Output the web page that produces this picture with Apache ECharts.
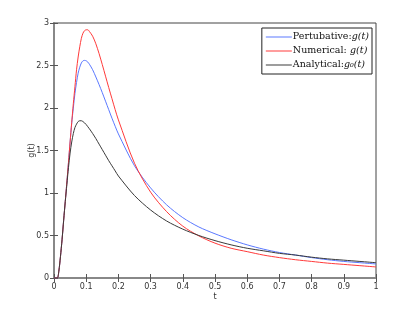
<!DOCTYPE html>
<html><head><meta charset="utf-8">
<script src="https://cdn.jsdelivr.net/npm/echarts@6/dist/echarts.min.js"></script>
<style>html,body{margin:0;padding:0;background:#fff}#c{width:415px;height:313px}</style>
</head><body><div id="c"></div>
<script>
const tValues = [0,0.01,0.015,0.02,0.025,0.03,0.035,0.04,0.045,0.05,0.055,0.06,0.065,0.07,0.075,0.08,0.085,0.09,0.095,0.1,0.105,
  0.11,0.12,0.13,0.14,0.15,0.16,0.17,0.18,0.19,0.2,
  0.25,0.3,0.35,0.4,0.45,0.5,0.55,0.6,0.65,0.7,0.75,0.8,0.85,0.9,0.95,1.0];
const perturbative = [0,0,0.08,0.25,0.45,0.68,0.9,1.13,1.36,1.6,1.82,2.0,2.17,2.3,2.41,2.48,2.53,2.555,2.56,2.555,2.54,
  2.515,2.45,2.365,2.275,2.18,2.08,1.98,1.88,1.785,1.695,
  1.32,1.06,0.86,0.71,0.6,0.52,0.45,0.39,0.34,0.3,0.27,0.24,0.215,0.195,0.18,0.165];
const numerical = [0,0,0.08,0.25,0.45,0.68,0.9,1.13,1.36,1.6,1.83,2.05,2.25,2.45,2.6,2.72,2.82,2.88,2.91,2.92,2.92,
  2.9,2.845,2.755,2.64,2.51,2.375,2.24,2.11,1.98,1.86,
  1.35,1.01,0.78,0.61,0.495,0.41,0.35,0.31,0.27,0.24,0.215,0.195,0.175,0.16,0.145,0.13];
const analytical = [0,0,0.08,0.25,0.45,0.68,0.9,1.1,1.3,1.47,1.6,1.7,1.77,1.81,1.84,1.85,1.85,1.84,1.825,1.805,1.78,
  1.755,1.70,1.64,1.575,1.51,1.445,1.38,1.32,1.26,1.2,
  0.97,0.8,0.67,0.575,0.5,0.44,0.39,0.35,0.32,0.29,0.27,0.245,0.225,0.21,0.195,0.18];
const seriesNames = ['Pertubative', 'Numerical', 'Analytical'];

function pairs(v){ return tValues.map((t,i)=>[t,v[i]]); }
const chart = echarts.init(document.getElementById('c'));
const tickLab = {fontFamily:'DejaVu Sans, sans-serif', fontSize:8, color:'#333'};
const mathLabel = {
  Pertubative: '{n|Pertubative:}{m|g(t)}',
  Numerical: '{n|Numerical:} {m|g(t)}',
  Analytical: '{n|Analytical:}{m|g₀(t)}'
};
chart.setOption({
  animation:false,
  grid:{left:54,right:39,top:23,bottom:35,show:true,borderColor:'#444',borderWidth:1},
  legend:{
    right:43, top:28, orient:'vertical', itemGap:3, itemWidth:26, itemHeight:1,
    padding:[4,3,4,4], borderColor:'#222', borderWidth:1, backgroundColor:'#fff',
    icon:'rect',
    formatter: n => mathLabel[n],
    textStyle:{
      color:'#111', padding:[0,0,0,-4],
      rich:{
        n:{fontFamily:'DejaVu Serif, serif', fontSize:9.5, lineHeight:10, color:'#111'},
        m:{fontFamily:'DejaVu Serif, serif', fontSize:9.5, lineHeight:10, fontStyle:'italic', color:'#111'}
      }
    },
    data: seriesNames
  },
  xAxis:[{
    type:'value', min:0, max:1, interval:0.1,
    name:'t', nameLocation:'middle', nameGap:15, nameMoveOverlap:false,
    nameTextStyle:{fontFamily:'DejaVu Sans, sans-serif', fontSize:8, color:'#333'},
    axisLine:{show:true, lineStyle:{color:'#888', width:2}},
    axisTick:{inside:true, length:4, lineStyle:{color:'#555'}},
    axisLabel:Object.assign({margin:5, formatter:v=>String(+v.toFixed(1))}, tickLab),
    splitLine:{show:false}
  },{
    type:'value', min:0, max:1, interval:0.1, position:'top',
    axisLine:{show:false}, axisTick:{inside:true,length:4,lineStyle:{color:'#555'}},
    axisLabel:{show:false}, splitLine:{show:false}
  }],
  yAxis:[{
    type:'value', min:0, max:3, interval:0.5,
    name:'g(t)', nameLocation:'middle', nameGap:18, nameRotate:90, nameMoveOverlap:false,
    nameTextStyle:{fontFamily:'DejaVu Sans, sans-serif', fontSize:8, color:'#333'},
    axisLine:{show:true, lineStyle:{color:'#888', width:2}},
    axisTick:{inside:true, length:4, lineStyle:{color:'#555'}},
    axisLabel:Object.assign({margin:5}, tickLab),
    splitLine:{show:false}
  },{
    type:'value', min:0, max:3, interval:0.5, position:'right',
    axisLine:{show:true, lineStyle:{color:'#888', width:2}},
    axisTick:{inside:true,length:4,lineStyle:{color:'#555'}},
    axisLabel:{show:false}, splitLine:{show:false}
  }],
  series:[
    {name:'Pertubative', type:'line', data:pairs(perturbative), smooth:0.3, showSymbol:false, lineStyle:{color:'#5a78ff', width:1}, itemStyle:{color:'#5a78ff'}},
    {name:'Numerical', type:'line', data:pairs(numerical), smooth:0.3, showSymbol:false, lineStyle:{color:'#ff3a3a', width:1}, itemStyle:{color:'#ff3a3a'}},
    {name:'Analytical', type:'line', data:pairs(analytical), smooth:0.3, showSymbol:false, lineStyle:{color:'#3a3a3a', width:1}, itemStyle:{color:'#3a3a3a'}}
  ]
});
</script></body></html>
